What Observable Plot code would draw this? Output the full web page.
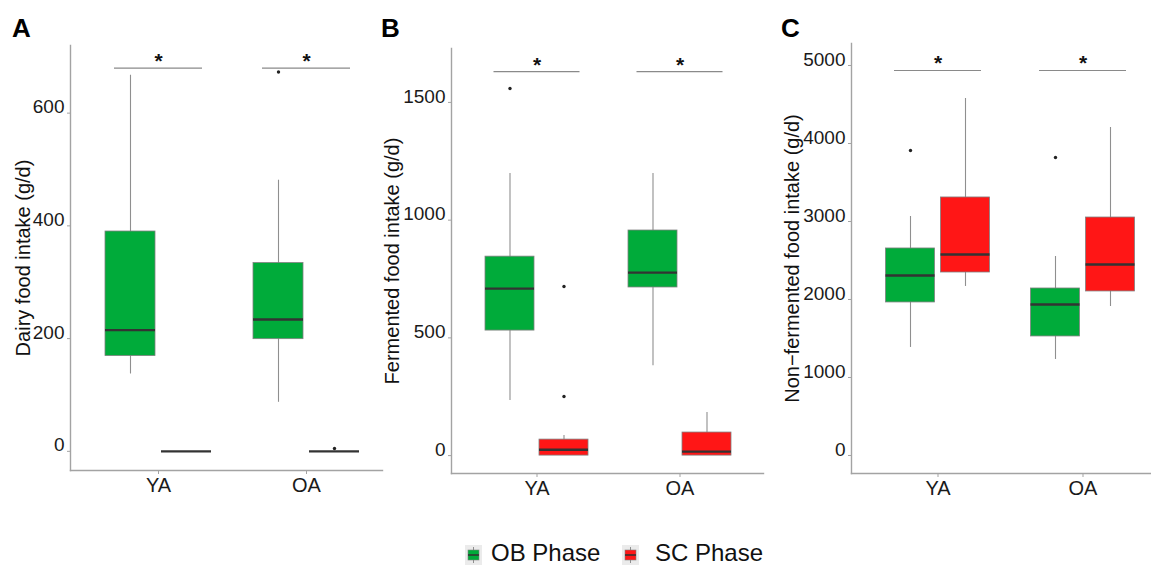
<!DOCTYPE html>
<html><head><meta charset="utf-8">
<script src="https://cdn.jsdelivr.net/npm/d3@7"></script>
<script src="https://cdn.jsdelivr.net/npm/@observablehq/plot@0.6"></script>
<style>
body{margin:0;background:#fff;font-family:"Liberation Sans",Arial,sans-serif;}
#wrap{position:relative;width:1151px;height:567px;overflow:hidden;background:#fff;}
.panel{position:absolute;top:0;}
.letter{position:absolute;top:13px;font-weight:bold;font-size:26px;color:#000;}
.lg-key{position:absolute;top:545px;}
.lg-text{position:absolute;top:539px;font-size:24px;line-height:28px;color:#111;white-space:nowrap;}
</style></head><body><div id="wrap"></div>
<script>
// ---- categories ----
const groups = ["YA", "OA"];
const phases = ["OB Phase", "SC Phase"];
const phaseColors = ["#00AB3A", "#FF1616"];
// box order: YA-OB, YA-SC, OA-OB, OA-SC
const boxGroup = ["YA", "YA", "OA", "OA"];
const boxPhase = ["OB Phase", "SC Phase", "OB Phase", "SC Phase"];

// ---- A: Dairy food intake ----
const dairyLow  = [137, 0, 87, 0];
const dairyQ1   = [169, 0, 199, 0];
const dairyMed  = [215, 0, 234, 0];
const dairyQ3   = [390, 0, 334, 0];
const dairyHigh = [667, 0, 481, 0];
const dairyOutGroup = ["OA", "OA"];
const dairyOutPhase = ["OB Phase", "SC Phase"];
const dairyOutValue = [673, 5];
const dairySig = [680, 680];
const dairyTicks = [0, 200, 400, 600];

// ---- B: Fermented food intake ----
const fermLow  = [234, 0, 382, 0];
const fermQ1   = [531, 0, 714, 0];
const fermMed  = [709, 25, 777, 17];
const fermQ3   = [845, 68, 956, 98];
const fermHigh = [1198, 85, 1198, 183];
const fermOutGroup = ["YA", "YA", "YA"];
const fermOutPhase = ["OB Phase", "SC Phase", "SC Phase"];
const fermOutValue = [1559, 718, 251];
const fermSig = [1631, 1631];
const fermTicks = [0, 500, 1000, 1500];

// ---- C: Non-fermented food intake ----
const nonLow  = [1385, 2167, 1231, 1910];
const nonQ1   = [1962, 2346, 1526, 2103];
const nonMed  = [2308, 2577, 1936, 2449];
const nonQ3   = [2654, 3308, 2141, 3051];
const nonHigh = [3064, 4577, 2551, 4205];
const nonOutGroup = ["YA", "OA"];
const nonOutPhase = ["OB Phase", "OB Phase"];
const nonOutValue = [3910, 3821];
const nonSig = [4936, 4936];
const nonTicks = [0, 1000, 2000, 3000, 4000, 5000];

const panelLetters = ["A", "B", "C"];
const yLabels = ["Dairy food intake (g/d)", "Fermented food intake (g/d)", "Non\u2212fermented food intake (g/d)"];

const wrap = document.getElementById("wrap");
const AXIS = "#a3a3a3";

function drawPanel(cfg) {
  const rows = boxGroup.map((g, i) => ({group: g, phase: boxPhase[i], lo: cfg.low[i], q1: cfg.q1[i], med: cfg.med[i], q3: cfg.q3[i], hi: cfg.high[i]}));
  const outs = cfg.outGroup.map((g, i) => ({group: g, phase: cfg.outPhase[i], v: cfg.outValue[i]}));
  const sig = groups.map((g, i) => ({group: g, y: cfg.sig[i]}));
  const W = cfg.width - cfg.marginLeft - cfg.marginRight;
  const step = cfg.c2 - cfg.c1, bw = cfg.bw;
  const pi = 1 - bw / step;
  const po = (W / step - (2 - pi)) / 2;
  const align = (cfg.c1 - bw / 2) / (W - step * (2 - pi));
  const marks = [
    Plot.frame({anchor: "left", stroke: AXIS, strokeWidth: 1.4}),
    Plot.frame({anchor: "bottom", stroke: AXIS, strokeWidth: 1.4}),
    Plot.axisY({ticks: cfg.ticks, tickSize: 3, tickFormat: () => "", stroke: AXIS, label: null}),
    Plot.axisY({ticks: cfg.ticks, tickSize: 0, tickPadding: 6, dy: -6, tickFormat: "d", fontSize: cfg.fs, fill: "#1a1a1a", label: null}),
    Plot.axisX({tickSize: 4, tickPadding: 3, fontSize: 20, stroke: AXIS, fill: "#1a1a1a", label: null}),
    Plot.text([yLabels[cfg.idx]], {frameAnchor: "left", rotate: -90, dx: cfg.labelDx, fontSize: cfg.lfs, fill: "#111", textAnchor: "middle", lineAnchor: "middle"})
  ];
  phases.forEach((p, k) => {
    const dx = k === 0 ? -cfg.off : cfg.off;
    const r = rows.filter(d => d.phase === p);
    const o = outs.filter(d => d.phase === p);
    marks.push(Plot.ruleX(r, {x: "group", y1: "lo", y2: "hi", dx, stroke: "#8f8f8f", strokeWidth: 1.1}));
    marks.push(Plot.barY(r, {x: "group", y1: "q1", y2: "q3", dx, fill: phaseColors[k], stroke: "#808080", strokeWidth: 0.8}));
    marks.push(Plot.tickY(r, {x: "group", y: "med", dx, stroke: "#333", strokeWidth: 2.4}));
    marks.push(Plot.dot(o, {x: "group", y: "v", dx, r: 1.7, fill: "#222", stroke: null}));
  });
  marks.push(Plot.tickY(sig, {x: "group", y: "y", insetLeft: -cfg.sigExt, insetRight: -cfg.sigExt, stroke: "#8a8a8a", strokeWidth: 1.2}));
  marks.push(Plot.text(sig, {x: "group", y: "y", text: () => "*", lineAnchor: "bottom", dy: 0, fontSize: 21, fontWeight: "bold", fill: "#111"}));

  const svg = Plot.plot({
    width: cfg.width, height: cfg.height,
    marginLeft: cfg.marginLeft, marginRight: cfg.marginRight,
    marginTop: cfg.marginTop, marginBottom: cfg.height - cfg.frameBottom,
    style: {fontFamily: '"Liberation Sans", Arial, sans-serif', background: "transparent", overflow: "visible"},
    x: {type: "band", domain: groups, paddingInner: pi, paddingOuter: po, align, axis: null},
    y: {domain: cfg.yDomain, axis: null},
    marks
  });
  svg.classList.add("panel");
  svg.style.position = "absolute";
  svg.style.left = cfg.left + "px";
  svg.style.top = "0px";
  wrap.appendChild(svg);
  const L = document.createElement("div");
  L.className = "letter";
  L.style.left = cfg.letterX + "px";
  L.textContent = panelLetters[cfg.idx];
  wrap.appendChild(L);
}

drawPanel({idx: 0, left: 0, width: 383, height: 520, marginLeft: 70, marginRight: 1, marginTop: 45, frameBottom: 470,
  c1: 88, c2: 236, bw: 50, off: 28, sigExt: 19, yDomain: [-34, 720], ticks: dairyTicks, fs: 19, lfs: 20, labelDx: -47, letterX: 12,
  low: dairyLow, q1: dairyQ1, med: dairyMed, q3: dairyQ3, high: dairyHigh,
  outGroup: dairyOutGroup, outPhase: dairyOutPhase, outValue: dairyOutValue, sig: dairySig});

drawPanel({idx: 1, left: 375, width: 391, height: 520, marginLeft: 76, marginRight: 3, marginTop: 48, frameBottom: 473,
  c1: 85.5, c2: 229, bw: 49, off: 27, sigExt: 18.5, yDomain: [-76, 1729], ticks: fermTicks, fs: 19, lfs: 20, labelDx: -59, letterX: 381,
  low: fermLow, q1: fermQ1, med: fermMed, q3: fermQ3, high: fermHigh,
  outGroup: fermOutGroup, outPhase: fermOutPhase, outValue: fermOutValue, sig: fermSig});

drawPanel({idx: 2, left: 766, width: 385, height: 520, marginLeft: 85, marginRight: 0, marginTop: 43, frameBottom: 473,
  c1: 86, c2: 231, bw: 49, off: 27.5, sigExt: 19, yDomain: [-231, 5282], ticks: nonTicks, fs: 19, lfs: 20, labelDx: -59, letterX: 781,
  low: nonLow, q1: nonQ1, med: nonMed, q3: nonQ3, high: nonHigh,
  outGroup: nonOutGroup, outPhase: nonOutPhase, outValue: nonOutValue, sig: nonSig});

// ---- legend ----
const legendKeyX = [465, 622];
const legendTextX = [491, 655];
phases.forEach((p, k) => {
  const key = document.createElementNS("http://www.w3.org/2000/svg", "svg");
  key.setAttribute("width", 17); key.setAttribute("height", 20);
  key.setAttribute("class", "lg-key");
  key.style.left = legendKeyX[k] + "px";
  key.innerHTML = `<rect x="0" y="0" width="17" height="20" fill="#ebebeb"/>
    <line x1="8.5" y1="2" x2="8.5" y2="18" stroke="#8f8f8f" stroke-width="1"/>
    <rect x="3" y="5" width="11" height="10" fill="${phaseColors[k]}" stroke="#808080" stroke-width="0.6"/>
    <line x1="3" y1="10" x2="14" y2="10" stroke="#333" stroke-width="1.6"/>`;
  wrap.appendChild(key);
  const t = document.createElement("div");
  t.className = "lg-text";
  t.style.left = legendTextX[k] + "px";
  t.textContent = p;
  wrap.appendChild(t);
});
</script></body></html>
